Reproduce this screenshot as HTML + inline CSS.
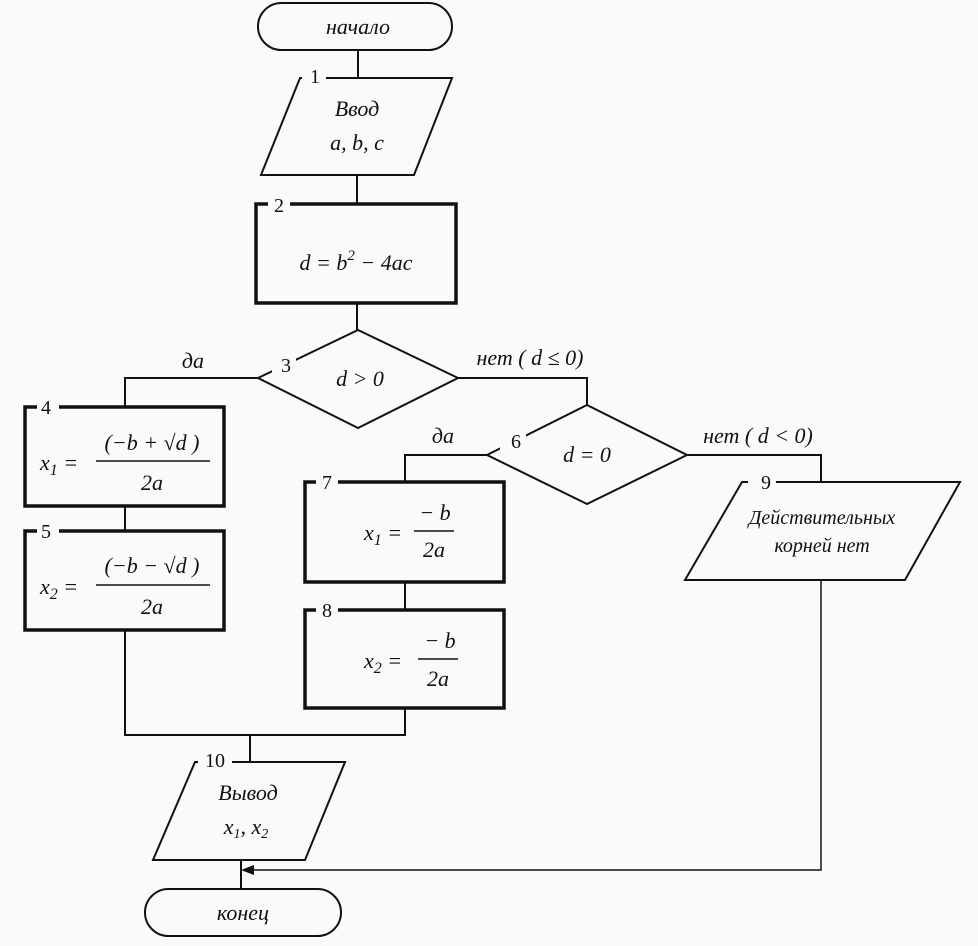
<!DOCTYPE html>
<html><head><meta charset="utf-8"><style>
html,body{margin:0;padding:0;background:#fafafa;}
svg{display:block;}
text{font-family:"Liberation Serif",serif;font-style:italic;fill:#111;}
.n{font-style:normal;}
</style></head><body>
<svg width="978" height="946" viewBox="0 0 978 946" xmlns="http://www.w3.org/2000/svg">
<rect width="978" height="946" fill="#fafafa"/>
<g fill="none" stroke="#111" stroke-width="2">
<!-- start -->
<rect x="258" y="3" width="194" height="47" rx="23.5"/>
<line x1="358" y1="50" x2="358" y2="78"/>
<polygon points="300,78 452,78 414,175 261,175"/>
<line x1="357" y1="175" x2="357" y2="204"/>
<line x1="357" y1="303" x2="357" y2="330"/>
<polygon points="358,330 458,378 358,428 258,378"/>
<polyline points="258,378 125,378 125,407"/>
<line x1="125" y1="506" x2="125" y2="531"/>
<polyline points="125,630 125,735 405,735 405,708"/>
<line x1="405" y1="582" x2="405" y2="610"/>
<line x1="250" y1="735" x2="250" y2="762"/>
<polyline points="458,378 587,378 587,405"/>
<polygon points="587,405 687,455 587,504 487,455"/>
<polyline points="487,455 405,455 405,482"/>
<polyline points="687,455 821,455 821,482"/>
<polygon points="742,482 960,482 905,580 685,580"/>
<polyline points="821,580 821,870 249,870" stroke-width="1.5"/>
<polygon points="195,762 345,762 305,860 153,860"/>
<line x1="241" y1="860" x2="241" y2="889"/>
<rect x="145" y="889" width="196" height="47" rx="23.5"/>
</g>
<polygon points="241,870 254,865 254,875" fill="#111"/>
<g fill="none" stroke="#111" stroke-width="3.5">
<rect x="256" y="204" width="200" height="99"/>
<rect x="25" y="407" width="199" height="99"/>
<rect x="25" y="531" width="199" height="99"/>
<rect x="305" y="482" width="199" height="100"/>
<rect x="305" y="610" width="199" height="98"/>
</g>
<!-- number label backgrounds -->
<g fill="#fafafa">
<rect x="302" y="65" width="24" height="16"/>
<rect x="268" y="193" width="22" height="16"/>
<rect x="37" y="397" width="22" height="16"/>
<rect x="37" y="520" width="22" height="16"/>
<rect x="316" y="472" width="22" height="16"/>
<rect x="316" y="600" width="22" height="16"/>
<rect x="748" y="472" width="28" height="16"/>
<rect x="198" y="750" width="34" height="16"/>
<rect x="272" y="355" width="24" height="20"/>
<rect x="500" y="430" width="26" height="22"/>
</g>
<g font-size="22">
<text x="358" y="34" text-anchor="middle">начало</text>
<text class="n" x="315" y="83" text-anchor="middle" font-size="20">1</text>
<text x="357" y="116" text-anchor="middle">Ввод</text>
<text x="357" y="150" text-anchor="middle">a, b, c</text>
<text class="n" x="279" y="212" text-anchor="middle" font-size="20">2</text>
<text x="356" y="270" text-anchor="middle">d = b<tspan font-size="15" dy="-10">2</tspan><tspan dy="10"> − 4ac</tspan></text>
<text class="n" x="286" y="372" text-anchor="middle" font-size="20">3</text>
<text x="360" y="386" text-anchor="middle">d &gt; 0</text>
<text x="193" y="368" text-anchor="middle">да</text>
<text x="530" y="365" text-anchor="middle">нет ( d ≤ 0)</text>
<text class="n" x="46" y="414" text-anchor="middle" font-size="20">4</text>
<text x="40" y="470">x<tspan font-size="16" dy="5">1</tspan><tspan dy="-5"> =</tspan></text>
<text x="152" y="450" text-anchor="middle">(−b + √d )</text>
<line x1="96" y1="461" x2="210" y2="461" stroke="#111" stroke-width="1.5"/>
<text x="152" y="490" text-anchor="middle">2a</text>
<text class="n" x="46" y="538" text-anchor="middle" font-size="20">5</text>
<text x="40" y="594">x<tspan font-size="16" dy="5">2</tspan><tspan dy="-5"> =</tspan></text>
<text x="152" y="573" text-anchor="middle">(−b − √d )</text>
<line x1="96" y1="585" x2="210" y2="585" stroke="#111" stroke-width="1.5"/>
<text x="152" y="614" text-anchor="middle">2a</text>
<text class="n" x="516" y="448" text-anchor="middle" font-size="20">6</text>
<text x="587" y="462" text-anchor="middle">d = 0</text>
<text x="443" y="443" text-anchor="middle">да</text>
<text x="758" y="443" text-anchor="middle">нет ( d &lt; 0)</text>
<text class="n" x="327" y="489" text-anchor="middle" font-size="20">7</text>
<text x="364" y="540">x<tspan font-size="16" dy="5">1</tspan><tspan dy="-5"> =</tspan></text>
<text x="435" y="520" text-anchor="middle">− b</text>
<line x1="414" y1="531" x2="454" y2="531" stroke="#111" stroke-width="1.5"/>
<text x="434" y="557" text-anchor="middle">2a</text>
<text class="n" x="327" y="617" text-anchor="middle" font-size="20">8</text>
<text x="364" y="668">x<tspan font-size="16" dy="5">2</tspan><tspan dy="-5"> =</tspan></text>
<text x="440" y="648" text-anchor="middle">− b</text>
<line x1="418" y1="659" x2="458" y2="659" stroke="#111" stroke-width="1.5"/>
<text x="438" y="686" text-anchor="middle">2a</text>
<text class="n" x="766" y="489" text-anchor="middle" font-size="20">9</text>
<text x="822" y="524" text-anchor="middle" font-size="20">Действительных</text>
<text x="822" y="552" text-anchor="middle" font-size="20">корней нет</text>
<text class="n" x="215" y="767" text-anchor="middle" font-size="20">10</text>
<text x="248" y="800" text-anchor="middle">Вывод</text>
<text x="246" y="834" text-anchor="middle">x<tspan font-size="14" dy="4">1</tspan><tspan dy="-4">, x</tspan><tspan font-size="14" dy="4">2</tspan></text>
<text x="243" y="920" text-anchor="middle">конец</text>
</g>
</svg>
</body></html>
